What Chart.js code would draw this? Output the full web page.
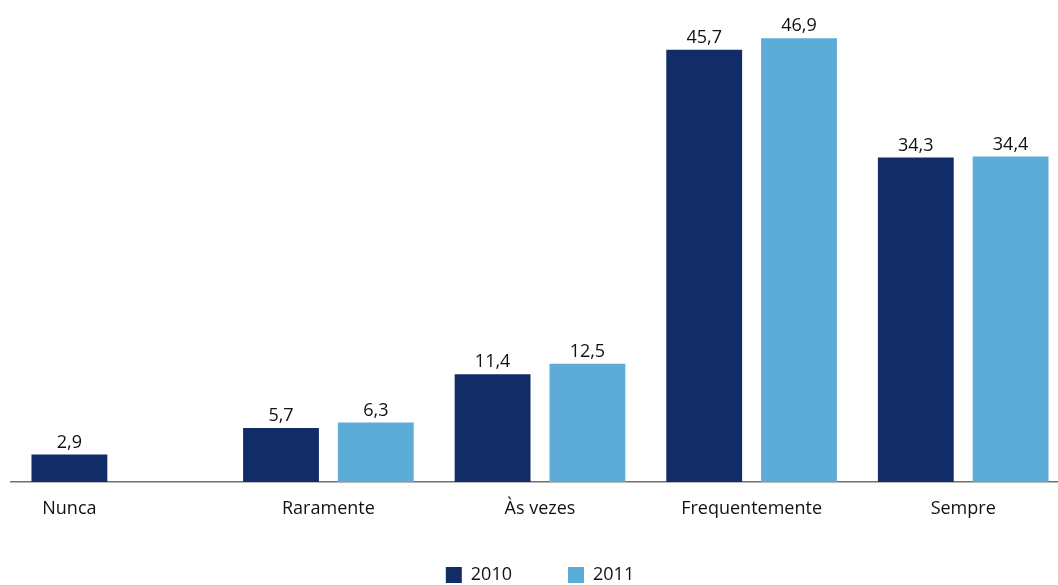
<!DOCTYPE html>
<html>
<head>
<meta charset="utf-8">
<script src="https://cdn.jsdelivr.net/npm/chart.js@4"></script>
<style>
  html, body { margin: 0; padding: 0; background: #fff; overflow: hidden; }
  #wrap { width: 1072px; height: 585px; position: relative; }
</style>
</head>
<body>
<div id="wrap"><canvas id="barChart"></canvas></div>
<script>
// data
var categories = ["Nunca", "Raramente", "Às vezes", "Frequentemente", "Sempre"];
var values2010 = [2.9, 5.7, 11.4, 45.7, 34.3];
var values2011 = [null, 6.3, 12.5, 46.9, 34.4];
var seriesNames = ["2010", "2011"];

//colours
var darkBlue = "#122c68";
var lightBlue = "#5dabd7";
var fontName = "'Open Sans', 'Noto Sans', sans-serif";

function fmt(v) {
    return String(v).replace(".", ",");
}

// value labels above the bars
var valueLabels = {
    id: "valueLabels",
    afterDatasetsDraw: function(chart) {
        var ctx = chart.ctx;
        ctx.save();
        ctx.font = "18px " + fontName;
        ctx.fillStyle = "#111";
        ctx.textAlign = "center";
        ctx.textBaseline = "bottom";
        chart.data.datasets.forEach(function(ds, i) {
            chart.getDatasetMeta(i).data.forEach(function(bar, j) {
                if (ds.data[j] == null) return;
                ctx.fillText(fmt(ds.data[j]), bar.x, bar.y - 3);
            });
        });
        ctx.restore();
    }
};

// category labels under the visible bars
var categoryLabels = {
    id: "categoryLabels",
    afterDraw: function(chart) {
        var ctx = chart.ctx;
        var y = chart.chartArea.bottom + 27;
        ctx.save();
        ctx.font = "18px " + fontName;
        ctx.fillStyle = "#111";
        ctx.textAlign = "center";
        ctx.textBaseline = "middle";
        categories.forEach(function(cat, j) {
            var xs = [];
            chart.data.datasets.forEach(function(ds, i) {
                if (ds.data[j] != null) xs.push(chart.getDatasetMeta(i).data[j].x);
            });
            var x = xs.reduce(function(a, b) { return a + b; }, 0) / xs.length;
            ctx.fillText(cat, x, y);
        });
        ctx.restore();
    }
};

new Chart("barChart", {
    type: "bar",
    data: {
        labels: categories,
        datasets: [{
            label: seriesNames[0],
            data: values2010,
            backgroundColor: darkBlue
        }, {
            label: seriesNames[1],
            data: values2011,
            backgroundColor: lightBlue
        }]
    },
    options: {
        responsive: true,
        maintainAspectRatio: false,
        animation: false,
        layout: {
            padding: { top: 9, left: 11, right: 3, bottom: -9 }
        },
        datasets: {
            bar: {
                categoryPercentage: 0.896,
                barPercentage: 0.8
            }
        },
        scales: {
            x: {
                grid: { display: false },
                border: { display: true, color: "#707070", width: 1.5 },
                ticks: { display: false },
                afterFit: function(scale) { scale.height = 28; }
            },
            y: {
                display: false,
                min: 0,
                max: 50
            }
        },
        plugins: {
            legend: {
                position: "bottom",
                labels: {
                    boxWidth: 16,
                    boxHeight: 16,
                    padding: 56,
                    color: "#111",
                    font: { family: fontName, size: 18 }
                }
            },
            tooltip: { enabled: false }
        }
    },
    plugins: [valueLabels, categoryLabels]
});
</script>
</body>
</html>
